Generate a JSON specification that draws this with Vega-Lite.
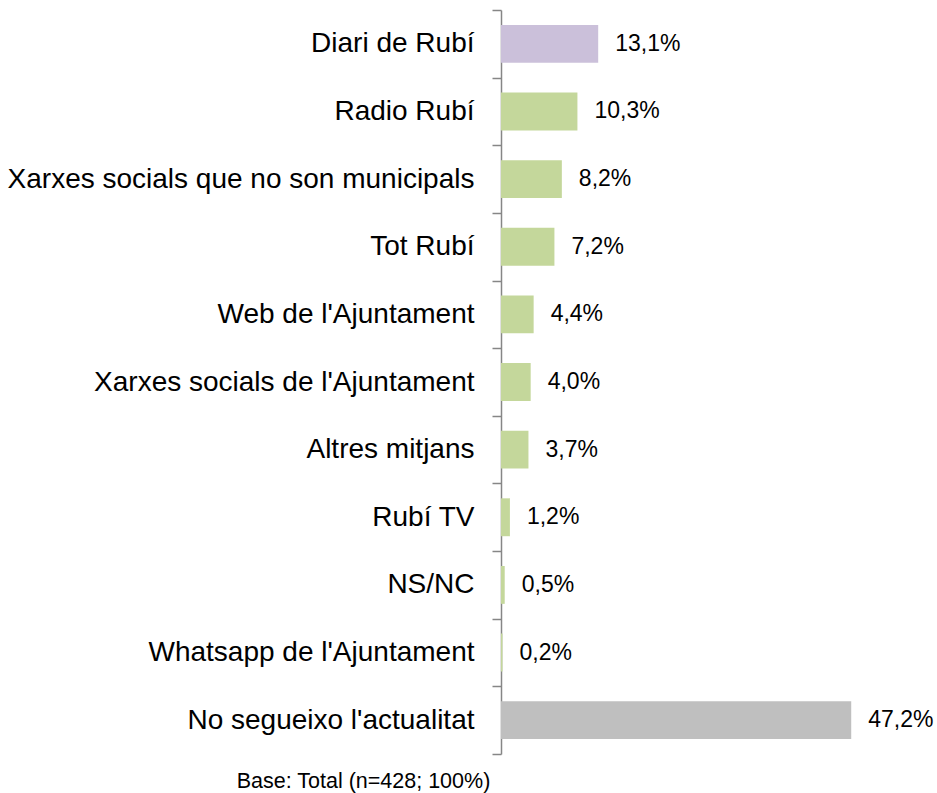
{
  "$schema": "https://vega.github.io/schema/vega-lite/v6.json",
  "width": 371,
  "height": 744,
  "autosize": {"type": "none"},
  "padding": {"left": 501, "top": 10, "right": 65, "bottom": 39},
  "background": "white",
  "config": {
    "view": {"stroke": null},
    "font": "Liberation Sans",
    "text": {"font": "Liberation Sans"}
  },
  "data": {
    "values": [
      {"mitja": "Diari de Rubí", "pct": 13.1, "label": "13,1%", "grup": "diari"},
      {"mitja": "Radio Rubí", "pct": 10.3, "label": "10,3%", "grup": "altres"},
      {"mitja": "Xarxes socials que no son municipals", "pct": 8.2, "label": "8,2%", "grup": "altres"},
      {"mitja": "Tot Rubí", "pct": 7.2, "label": "7,2%", "grup": "altres"},
      {"mitja": "Web de l'Ajuntament", "pct": 4.4, "label": "4,4%", "grup": "altres"},
      {"mitja": "Xarxes socials de l'Ajuntament", "pct": 4.0, "label": "4,0%", "grup": "altres"},
      {"mitja": "Altres mitjans", "pct": 3.7, "label": "3,7%", "grup": "altres"},
      {"mitja": "Rubí TV", "pct": 1.2, "label": "1,2%", "grup": "altres"},
      {"mitja": "NS/NC", "pct": 0.5, "label": "0,5%", "grup": "altres"},
      {"mitja": "Whatsapp de l'Ajuntament", "pct": 0.2, "label": "0,2%", "grup": "altres"},
      {"mitja": "No segueixo l'actualitat\u2008", "pct": 47.2, "label": "47,2%", "grup": "no"}
    ]
  },
  "encoding": {
    "y": {
      "field": "mitja",
      "type": "nominal",
      "sort": null,
      "scale": {"paddingInner": 0, "paddingOuter": 0},
      "axis": {
        "title": null,
        "domainColor": "#868686",
        "domainWidth": 1.5,
        "tickColor": "#868686",
        "tickWidth": 1.5,
        "tickSize": 9,
        "tickBand": "extent",
        "labelFontSize": 28,
        "labelColor": "#000000",
        "labelPadding": 18,
        "labelLimit": 600,
        "labelFont": "Liberation Sans"
      }
    },
    "x": {
      "field": "pct",
      "type": "quantitative",
      "scale": {"domain": [0, 50], "nice": false},
      "axis": {
        "domain": false,
        "ticks": false,
        "labels": false,
        "grid": false,
        "title": "Base: Total (n=428; 100%)",
        "titleFontSize": 21.5,
        "titleFontWeight": "normal",
        "titleColor": "#000000",
        "titleFont": "Liberation Sans",
        "titleX": -138,
        "titleY": 33,
        "titleAlign": "center",
        "titleBaseline": "alphabetic"
      }
    }
  },
  "layer": [
    {
      "mark": {"type": "bar", "height": {"band": 0.56}},
      "encoding": {
        "color": {
          "field": "grup",
          "type": "nominal",
          "scale": {"domain": ["diari", "altres", "no"], "range": ["#CBC0DA", "#C4D79B", "#BFBFBF"]},
          "legend": null
        }
      }
    },
    {
      "mark": {"type": "text", "align": "left", "baseline": "middle", "dx": 17, "fontSize": 23, "color": "#000000", "font": "Liberation Sans"},
      "encoding": {"text": {"field": "label"}}
    }
  ]
}
